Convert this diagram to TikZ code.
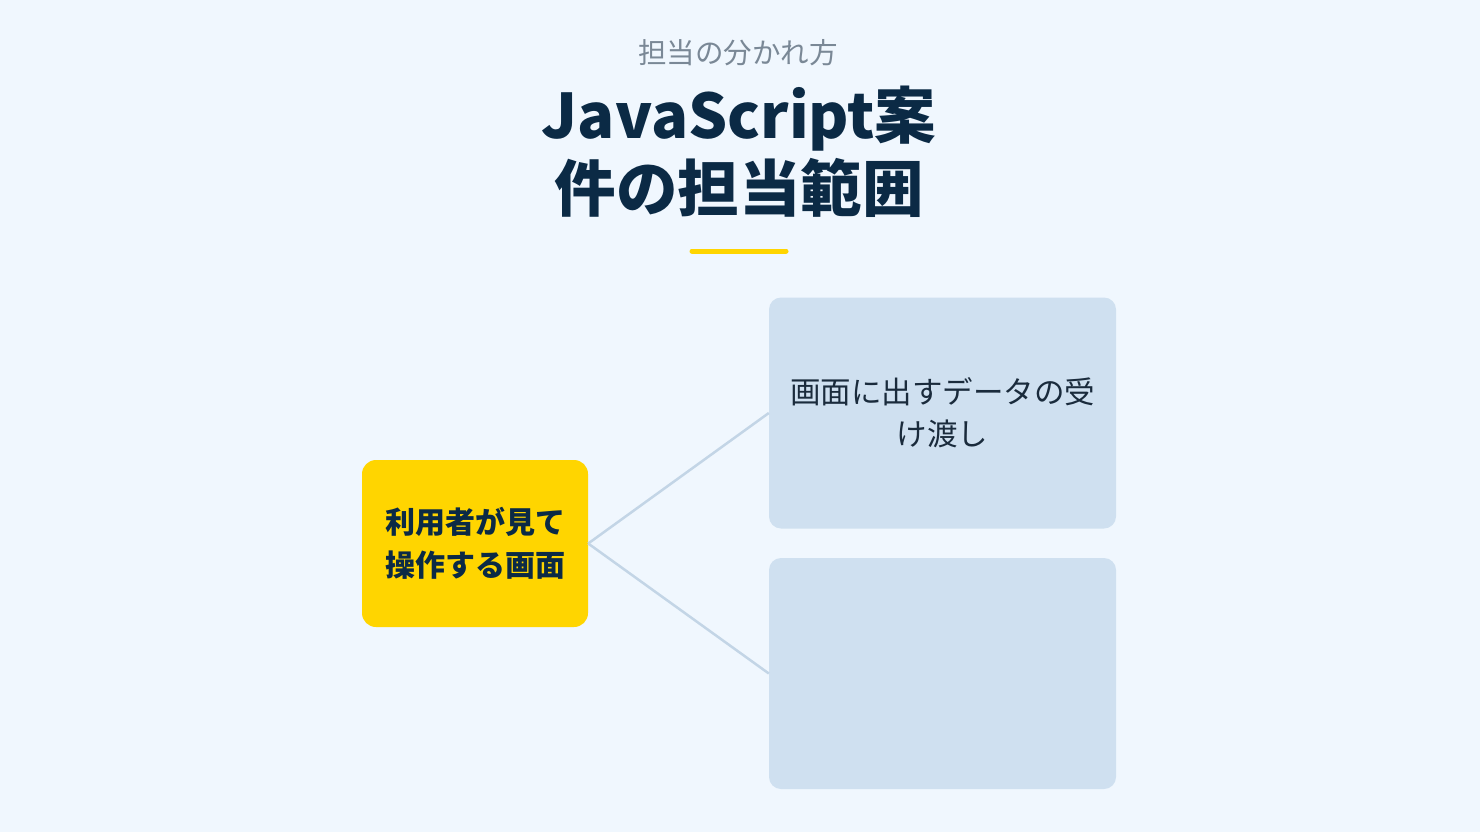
\documentclass[tikz,border=0pt]{standalone}
\usepackage{fontspec}
\setmainfont{Noto Sans CJK JP}
\newfontfamily\cjk{Noto Sans CJK JP}
\definecolor{bgc}{HTML}{F0F7FE}
\definecolor{subc}{HTML}{7A8896}
\definecolor{navy}{HTML}{0B2A45}
\definecolor{accent}{HTML}{FFD500}
\definecolor{panel}{HTML}{CFE0F0}
\definecolor{linkc}{HTML}{C3D5E6}
\definecolor{txt}{HTML}{1A2B3C}
\tikzset{
  hub/.style={fill=accent, rounded corners=14pt, minimum width=226pt, minimum height=167pt, inner sep=0pt,
    align=center, text=navy, font=\cjk\bfseries\fontsize{30}{43}\selectfont},
  panelbox/.style={fill=panel, rounded corners=12pt, minimum width=347pt, minimum height=231pt, inner sep=0pt,
    align=center, text=txt, font=\cjk\fontsize{30.5}{42}\selectfont},
  link/.style={draw=linkc, line width=2.5pt},
}
\begin{document}
\begin{tikzpicture}[x=1pt,y=-1pt]
\useasboundingbox (0,0) rectangle (1480,832);
\fill[bgc] (0,0) rectangle (1480,832);
\node[text=subc, font=\cjk\fontsize{28.5}{32}\selectfont] (sub) at (738,53) {担当の分かれ方};
\node[text=navy, align=center, font=\cjk\bfseries\fontsize{61.5}{73}\selectfont] (title) at (739,152) {JavaScript案\\件の担当範囲};
\coordinate (ul1) at (692,251);
\coordinate (ul2) at (786,251);
\draw[accent, line width=5pt, line cap=round] (ul1) -- (ul2);
\node[hub] (hub) at (475,543.5) {利用者が見て\\操作する画面};
\node[panelbox] (p1) at (942.5,413) {画面に出すデータの受\\け渡し};
\node[panelbox] (p2) at (942.5,673.5) {};
\draw[link] (hub.east) -- (p1.west);
\draw[link] (hub.east) -- (p2.west);
\end{tikzpicture}
\end{document}
